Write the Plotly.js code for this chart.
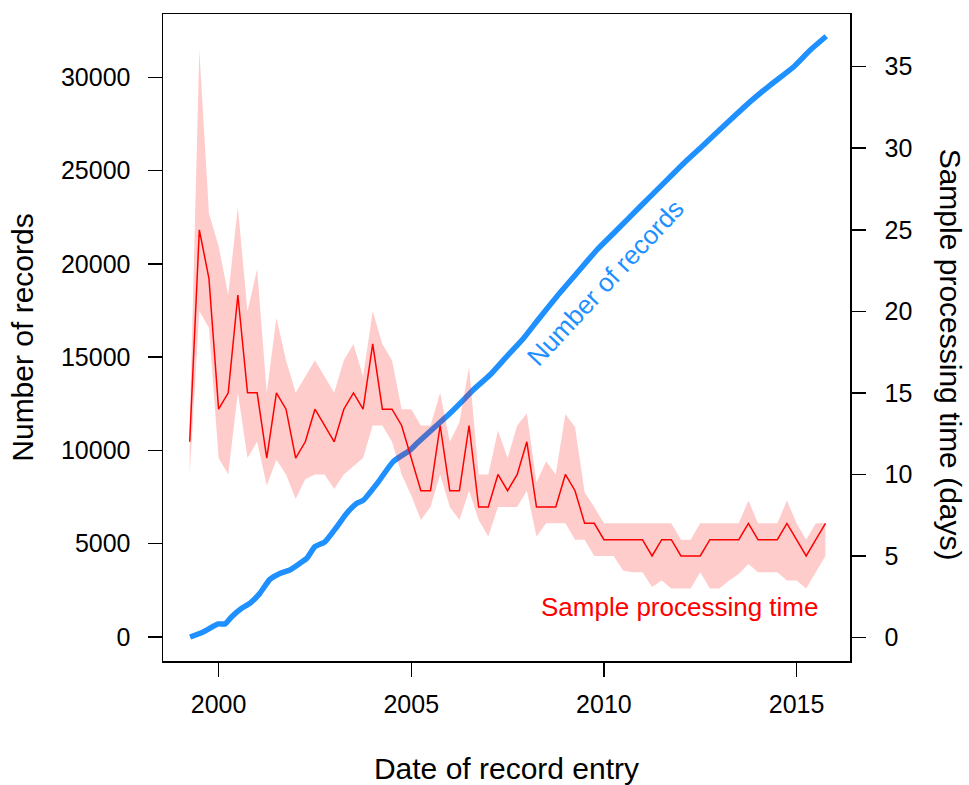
<!DOCTYPE html>
<html>
<head>
<meta charset="utf-8">
<script src="https://cdn.plot.ly/plotly-3.0.1.min.js"></script>
<style>html,body{margin:0;padding:0;background:#fff;}#chart{width:969px;height:785px;}</style>
</head>
<body>
<div id="chart"></div>
<script>
// Cumulative number of records (left axis)
const recYears = [1999.26,1999.60,1999.99,2000.17,2000.34,2000.60,2000.81,2001.07,2001.33,2001.59,2001.85,2002.11,2002.29,2002.50,2002.76,2003.07,2003.32,2003.58,2003.76,2004.14,2004.53,2004.97,2005.15,2005.57,2006.00,2006.35,2006.60,2007.04,2007.47,2007.91,2008.25,2008.77,2009.29,2009.81,2010.33,2010.93,2011.54,2012.06,2012.58,2013.18,2013.79,2014.31,2014.92,2015.35,2015.77];
const recCount = [0,270,700,700,1090,1540,1800,2340,3090,3410,3590,3950,4220,4840,5100,5910,6620,7160,7340,8300,9400,10020,10380,11180,11980,12700,13230,14040,15020,16000,16900,18230,19480,20730,21800,23050,24300,25370,26360,27520,28680,29570,30550,31450,32200];

// Quarterly sample processing time (right axis, days)
const quarters = [1999.25,1999.5,1999.75,2000,2000.25,2000.5,2000.75,2001,2001.25,2001.5,2001.75,2002,2002.25,2002.5,2002.75,2003,2003.25,2003.5,2003.75,2004,2004.25,2004.5,2004.75,2005,2005.25,2005.5,2005.75,2006,2006.25,2006.5,2006.75,2007,2007.25,2007.5,2007.75,2008,2008.25,2008.5,2008.75,2009,2009.25,2009.5,2009.75,2010,2010.25,2010.5,2010.75,2011,2011.25,2011.5,2011.75,2012,2012.25,2012.5,2012.75,2013,2013.25,2013.5,2013.75,2014,2014.25,2014.5,2014.75,2015,2015.25,2015.5,2015.75];
const procTime = [12,25,22,14,15,21,15,15,11,15,14,11,12,14,13,12,14,15,14,18,14,14,13,11,9,9,13,9,9,13,8,8,10,9,10,12,8,8,8,10,9,7,7,6,6,6,6,6,5,6,6,5,5,5,6,6,6,6,7,6,6,6,7,6,5,6,7];
const procUpper = [13,36,26,24,21,26.4,20,22.6,15,19.6,17,15,16,17,16,15,17,18,16,20,18,17,14,14,13,13,15,12,13.2,16.6,10,10,12.7,11,13,13.75,9.5,10.8,10,13.7,12.9,8.9,8,7,7,7,7,7,7,7,7,6,6,7,7,7,7,7,8.4,7,7,7,8.4,7,6,7,7];
const procLower = [10,20,19,11,10,15,11,12,9.3,10.9,10,8.5,9.7,10,10,9.1,10,10.5,11,13,13,12,10,8.7,7.2,8,10,8,7.2,9,7.2,6.2,8,8,8,9,6.2,7,7,7,6,6,5,5,5,4.1,4,4,3.1,3.5,3,3,3,4,3,3,3.5,3.9,4.5,4,4,4,3.5,3.5,3,4,5];

const xTicks = [2000,2005,2010,2015];
const yTicks = [0,5000,10000,15000,20000,25000,30000];
const y2Ticks = [0,5,10,15,20,25,30,35];

const FONT = 'Liberation Sans, Arial, Helvetica, sans-serif';
const BLUE = '#1E90FF';
const RED = '#FF0000';

const traces = [
  {x: recYears, y: recCount, type: 'scatter', mode: 'lines', yaxis: 'y',
   line: {color: BLUE, width: 5.5, shape: 'spline', smoothing: 0.5}, hoverinfo: 'skip', showlegend: false},
  {x: quarters, y: procLower, type: 'scatter', mode: 'lines', yaxis: 'y2',
   line: {width: 0, color: 'rgba(0,0,0,0)'}, hoverinfo: 'skip', showlegend: false},
  {x: quarters, y: procUpper, type: 'scatter', mode: 'lines', yaxis: 'y2',
   fill: 'tonexty', fillcolor: 'rgba(255,0,0,0.2)',
   line: {width: 0, color: 'rgba(0,0,0,0)'}, hoverinfo: 'skip', showlegend: false},
  {x: quarters, y: procTime, type: 'scatter', mode: 'lines', yaxis: 'y2',
   line: {color: RED, width: 1.5}, showlegend: false}
];

const axisCommon = {
  showgrid: false, zeroline: false, showline: true, linecolor: '#000', linewidth: 1.5,
  ticks: 'outside', ticklen: 14, tickwidth: 1.5, tickcolor: '#000',
  tickfont: {family: FONT, size: 25, color: '#000'}
};

const layout = {
  width: 969, height: 785,
  margin: {l: 163, r: 119, t: 14, b: 124, pad: 0},
  paper_bgcolor: '#fff', plot_bgcolor: '#fff',
  font: {family: FONT, color: '#000'},
  xaxis: Object.assign({}, axisCommon, {
    range: [1998.557, 2016.387], tickmode: 'array', tickvals: xTicks,
    ticktext: xTicks.map(String), mirror: true, ticklabelstandoff: 6,
    title: {text: 'Date of record entry', font: {family: FONT, size: 30, color: '#000'}, standoff: 46}
  }),
  yaxis: Object.assign({}, axisCommon, {
    range: [-1286, 33393], tickmode: 'array', tickvals: yTicks,
    ticktext: yTicks.map(String), mirror: true, ticklabelstandoff: 12,
    title: {text: 'Number of records', font: {family: FONT, size: 30, color: '#000'}, standoff: 18}
  }),
  yaxis2: Object.assign({}, axisCommon, {
    range: [-1.44, 38.23], tickmode: 'array', tickvals: y2Ticks,
    ticktext: y2Ticks.map(String), overlaying: 'y', side: 'right', ticklabelstandoff: 14
  }),
  annotations: [
    {text: 'Sample processing time (days)', xref: 'paper', yref: 'paper',
     x: 1.146, y: 0.473, xanchor: 'center', yanchor: 'middle', textangle: 90,
     showarrow: false, font: {family: FONT, size: 30, color: '#000'}},
    {text: 'Number of records', xref: 'x', yref: 'y', x: 2010.03, y: 18974,
     textangle: -47, showarrow: false, xanchor: 'center', yanchor: 'middle',
     font: {family: FONT, size: 26, color: BLUE}},
    {text: 'Sample processing time', xref: 'x', yref: 'y2', x: 2011.97, y: 1.87,
     showarrow: false, xanchor: 'center', yanchor: 'middle',
     font: {family: FONT, size: 26, color: RED}}
  ]
};

Plotly.newPlot('chart', traces, layout, {displayModeBar: false, staticPlot: true});
</script>
</body>
</html>
